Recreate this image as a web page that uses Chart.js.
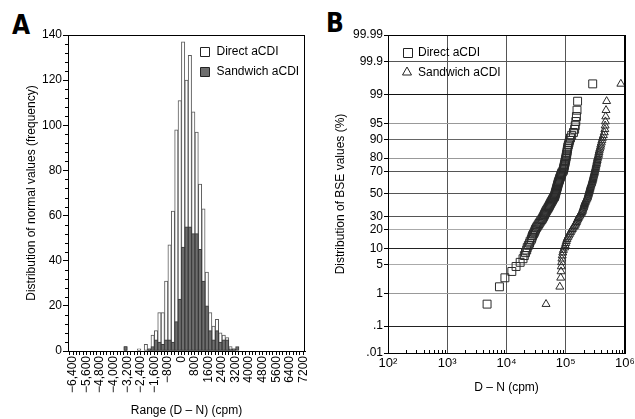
<!DOCTYPE html>
<html>
<head>
<meta charset="utf-8">
<script src="https://cdn.jsdelivr.net/npm/chart.js@4.4.1/dist/chart.umd.min.js"></script>
<style>
html, body { margin: 0; padding: 0; background: #fff; overflow: hidden; width: 635px; height: 419px; }
.panel { position: absolute; top: 0; height: 419px; }
#wrapA { left: 0; width: 320px; }
#wrapB { left: 320px; width: 330px; }
.tag { position: absolute; font-family: "Liberation Sans Narrow", "DejaVu Sans Condensed", sans-serif; font-weight: bold; font-size: 26px; line-height: 1; }
</style>
</head>
<body>
<div class="tag" style="left:12px;top:12px">A</div>
<div class="tag" style="left:326px;top:10px">B</div>
<div id="wrapA" class="panel"><canvas id="chartA"></canvas></div>
<div id="wrapB" class="panel"><canvas id="chartB"></canvas></div>
<script>
// ---- panel A : histogram, bins of 200 cpm (left edge) ----
const binWidth = 200;
const binStarts = [-3400, -3200, -3000, -2800, -2600, -2400, -2200, -2000, -1800, -1600, -1400, -1200,
  -1000, -800, -600, -400, -200, 0, 200, 400, 600, 800, 1000, 1200, 1400, 1600, 1800, 2000, 2200,
  2400, 2600, 2800, 3000, 3200];
const directCounts = [2, 0, 0, 0, 1, 0, 3, 1, 7, 9, 17, 17, 31, 47, 62, 98, 111,
  137, 120, 131, 106, 97, 74, 63, 35, 17, 11, 14, 8, 7, 6, 2, 1, 0];
const sandwichCounts = [2, 0, 0, 0, 0, 0, 0, 1, 2, 5, 4, 3, 5, 5, 4, 13, 23,
  46, 55, 55, 52, 52, 45, 31, 20, 9, 5, 9, 4, 5, 5, 1, 1, 2];
const xTickValuesA = [-6400, -5600, -4800, -4000, -3200, -2400, -1600, -800, 0, 800, 1600, 2400,
  3200, 4000, 4800, 5600, 6400, 7200];
const xTickLabelsA = ['\u22126,400', '\u22125,600', '\u22124,800', '\u22124,000', '\u22123,200', '\u22122,400',
  '\u22121,600', '\u2212800', '0', '800', '1600', '2400', '3200', '4000', '4800', '5600', '6400', '7200'];

// ---- panel B : probability plot ----
const percentiles = [0.5, 1.5, 2.5, 3.5, 4.5, 5.5, 6.5, 7.5, 8.5, 9.5,
  10.5, 11.5, 12.5, 13.5, 14.5, 15.5, 16.5, 17.5, 18.5, 19.5,
  20.5, 21.5, 22.5, 23.5, 24.5, 25.5, 26.5, 27.5, 28.5, 29.5,
  30.5, 31.5, 32.5, 33.5, 34.5, 35.5, 36.5, 37.5, 38.5, 39.5,
  40.5, 41.5, 42.5, 43.5, 44.5, 45.5, 46.5, 47.5, 48.5, 49.5,
  50.5, 51.5, 52.5, 53.5, 54.5, 55.5, 56.5, 57.5, 58.5, 59.5,
  60.5, 61.5, 62.5, 63.5, 64.5, 65.5, 66.5, 67.5, 68.5, 69.5,
  70.5, 71.5, 72.5, 73.5, 74.5, 75.5, 76.5, 77.5, 78.5, 79.5,
  80.5, 81.5, 82.5, 83.5, 84.5, 85.5, 86.5, 87.5, 88.5, 89.5,
  90.5, 91.5, 92.5, 93.5, 94.5, 95.5, 96.5, 97.5, 98.5, 99.5];
const directBse = [4700, 7600, 9400, 12300, 14500, 17000, 19000, 20000, 20900, 21900,
  22400, 23400, 24500, 25100, 26300, 26900, 27500, 28500, 29500, 30200,
  30900, 32000, 33100, 34300, 35500, 36700, 38000, 39400, 40700, 41700,
  42700, 43700, 44700, 45700, 46800, 47900, 49500, 50700, 51900, 53100,
  54300, 55600, 56900, 58200, 59600, 61000, 62400, 64600, 65300, 66100,
  66800, 67600, 68400, 69200, 70000, 70800, 71600, 72400, 73300, 74100,
  75000, 75900, 77600, 78500, 79400, 81300, 82200, 84100, 85100, 87100,
  90200, 91200, 92300, 93300, 94400, 95500, 96600, 97700, 98900, 100000,
  101200, 102300, 103500, 104700, 105900, 107200, 108400, 110900, 113500, 116100,
  120200, 125900, 134900, 141300, 144500, 147900, 151400, 154900, 158500, 285000];
const sandwichBse = [46500, 79400, 82200, 83200, 84100, 85100, 86100, 87100, 89100, 91200,
  95500, 97700, 100000, 102300, 104700, 108400, 112200, 116100, 120200, 124500,
  128800, 133400, 139600, 144500, 147900, 151400, 154900, 158500, 162200, 166000,
  171800, 175800, 182000, 186200, 190500, 192800, 195000, 199500, 201800, 204200,
  206500, 208900, 213800, 216300, 221300, 226500, 231700, 234400, 237100, 239900,
  242700, 245500, 248300, 251200, 254100, 257000, 260000, 263000, 266100, 272300,
  275400, 278600, 281800, 285100, 288400, 291700, 295100, 298500, 302000, 305500,
  309000, 312600, 316200, 319900, 323600, 327300, 331100, 335000, 338800, 342800,
  346700, 354800, 358900, 363100, 367300, 375800, 384600, 389000, 398100, 407400,
  416900, 431500, 446700, 457100, 462400, 467700, 473200, 478600, 489800, 851100];
const yTickValuesB = [99.99, 99.9, 99, 95, 90, 80, 70, 50, 30, 20, 10, 5, 1, 0.1, 0.01];
const yTickLabelsB = ['99.99', '99.9', '99', '95', '90', '80', '70', '50', '30', '20', '10', '5', '1', '.1', '.01'];
const yGridColorsB = ['#000', '#555', '#111', '#999', '#666', '#999', '#555', '#555', '#555', '#aaa', '#222', '#aaa', '#999', '#222', '#000'];
const xTickValuesB = [1e2, 1e3, 1e4, 1e5, 1e6];
const xTickLabelsB = ['10\u00b2', '10\u00b3', '10\u2074', '10\u2075', '10\u2076'];

const FONT = '"Liberation Sans", Arial, Helvetica, sans-serif';
Chart.defaults.font.family = FONT;
Chart.defaults.font.size = 12;
Chart.defaults.color = '#000';

// inverse of the normal CDF (Acklam), percent in, z out
function probit(pct) {
  const p = pct / 100;
  const a = [-3.969683028665376e+01, 2.209460984245205e+02, -2.759285104469687e+02, 1.383577518672690e+02, -3.066479806614716e+01, 2.506628277459239e+00];
  const b = [-5.447609879822406e+01, 1.615858368580409e+02, -1.556989798598866e+02, 6.680131188771972e+01, -1.328068155288572e+01];
  const c = [-7.784894002430293e-03, -3.223964580411365e-01, -2.400758277161838e+00, -2.549732539343734e+00, 4.374664141464968e+00, 2.938163982698783e+00];
  const d = [7.784695709041462e-03, 3.224671290700398e-01, 2.445134137142996e+00, 3.754408661907416e+00];
  const lo = 0.02425;
  let q, r;
  if (p < lo) {
    q = Math.sqrt(-2 * Math.log(p));
    return (((((c[0]*q+c[1])*q+c[2])*q+c[3])*q+c[4])*q+c[5]) / ((((d[0]*q+d[1])*q+d[2])*q+d[3])*q+1);
  }
  if (p > 1 - lo) {
    q = Math.sqrt(-2 * Math.log(1 - p));
    return -(((((c[0]*q+c[1])*q+c[2])*q+c[3])*q+c[4])*q+c[5]) / ((((d[0]*q+d[1])*q+d[2])*q+d[3])*q+1);
  }
  q = p - 0.5; r = q * q;
  return (((((a[0]*r+a[1])*r+a[2])*r+a[3])*r+a[4])*r+a[5])*q / (((((b[0]*r+b[1])*r+b[2])*r+b[3])*r+b[4])*r+1);
}

// box around the plot area
const frame = {
  id: 'frame',
  afterDraw(chart) {
    const {ctx, chartArea: a} = chart;
    ctx.save();
    ctx.strokeStyle = '#000';
    ctx.lineWidth = 1;
    ctx.strokeRect(Math.round(a.left) + 0.5, Math.round(a.top) + 0.5, Math.round(a.right - a.left) - 1, Math.round(a.bottom - a.top));
    ctx.restore();
  }
};

// short unlabeled ticks
const minorTicks = {
  id: 'minorTicks',
  afterDraw(chart, args, opts) {
    const {ctx, chartArea: a} = chart;
    ctx.save();
    ctx.strokeStyle = '#000';
    ctx.lineWidth = 1;
    ctx.beginPath();
    (opts.x || []).forEach(v => {
      const px = Math.round(chart.scales.x.getPixelForValue(v)) + 0.5;
      ctx.moveTo(px, Math.round(a.bottom));
      ctx.lineTo(px, Math.round(a.bottom) + opts.xLen);
    });
    (opts.y || []).forEach(v => {
      const py = Math.round(chart.scales.y.getPixelForValue(v)) + 0.5;
      ctx.moveTo(Math.round(a.left), py);
      ctx.lineTo(Math.round(a.left) + opts.yLen, py);
    });
    ctx.stroke();
    ctx.restore();
  }
};

// legend drawn inside the plot
const innerLegend = {
  id: 'innerLegend',
  afterDraw(chart, args, opts) {
    const {ctx, chartArea: a} = chart;
    ctx.save();
    ctx.font = '12px ' + FONT;
    ctx.textBaseline = 'middle';
    chart.data.datasets.forEach((ds, i) => {
      const x = (opts.fromRight ? a.right - opts.x : a.left + opts.x);
      const y = a.top + opts.y + i * opts.gap;
      ctx.lineWidth = 1;
      ctx.strokeStyle = '#222';
      ctx.fillStyle = opts.fills ? ds.backgroundColor : 'rgba(0,0,0,0)';
      const style = opts.fills ? 'rect' : ds.pointStyle;
      ctx.beginPath();
      if (style === 'triangle') {
        ctx.moveTo(x, y - 5);
        ctx.lineTo(x + 4.5, y + 3);
        ctx.lineTo(x - 4.5, y + 3);
        ctx.closePath();
      } else {
        ctx.rect(Math.round(x - 4.5) + 0.5, Math.round(y - 4.5) + 0.5, 9, 9);
      }
      ctx.fill();
      ctx.stroke();
      ctx.fillStyle = '#000';
      ctx.fillText(ds.label, x + opts.textGap, y + 0.5);
    });
    ctx.restore();
  }
};

// minor tick positions
const yMinorA = [];
for (let v = 4; v < 140; v += 4) if (v % 20 !== 0) yMinorA.push(v);
const xTicksAllA = [];
for (let v = -6600; v <= 7200; v += binWidth) xTicksAllA.push(v);
const xMinorB = [];
for (let e = 2; e < 6; e++) for (let m = 2; m <= 9; m++) xMinorB.push(m * Math.pow(10, e));

const barDataset = (label, counts, fill, border, order) => ({
  label: label,
  data: binStarts.map((s, i) => ({x: s + binWidth / 2, y: counts[i] > 0 ? counts[i] : null})),
  backgroundColor: fill,
  borderColor: border,
  borderWidth: 1,
  borderSkipped: false,
  barPercentage: 1,
  categoryPercentage: 1,
  order: order
});

new Chart(document.getElementById('chartA'), {
  type: 'bar',
  data: {
    datasets: [
      barDataset('Direct aCDI', directCounts, '#ffffff', '#5a5a5a', 1),
      barDataset('Sandwich aCDI', sandwichCounts, '#6e6e6e', '#3a3a3a', 0)
    ]
  },
  options: {
    animation: false,
    responsive: true,
    maintainAspectRatio: false,
    layout: { padding: { left: 0, top: 35, right: 15, bottom: 0 } },
    plugins: {
      legend: { display: false },
      tooltip: { enabled: false },
      minorTicks: { y: yMinorA, yLen: -3 },
      innerLegend: { fromRight: true, x: 100.5, y: 16, gap: 20, textGap: 12, fills: true }
    },
    scales: {
      x: {
        type: 'linear',
        stacked: true,
        offset: false,
        min: -6700,
        max: 7300,
        afterBuildTicks: s => { s.ticks = xTicksAllA.map(v => ({value: v})); },
        afterFit: s => { s.height = 68; },
        ticks: {
          autoSkip: false,
          minRotation: 90,
          maxRotation: 90,
          padding: 1,
          font: { size: 12 },
          callback: v => { const k = xTickValuesA.indexOf(v); return k >= 0 ? xTickLabelsA[k] : ''; }
        },
        grid: { drawOnChartArea: false, offset: false, tickLength: 4, color: '#000' },
        border: { color: '#000' },
        title: { display: true, text: 'Range (D \u2013 N) (cpm)', font: { size: 12 }, padding: { top: 0, bottom: 1 } }
      },
      y: {
        min: 0,
        max: 140,
        stacked: false,
        afterBuildTicks: s => { s.ticks = [0, 20, 40, 60, 80, 100, 120, 140].map(v => ({value: v})); },
        afterFit: s => { s.width = 68; },
        ticks: { padding: 1, font: { size: 12 } },
        grid: { drawOnChartArea: false, tickLength: 5, color: '#000' },
        border: { color: '#000' },
        title: { display: true, text: 'Distribution of normal values (frequency)', font: { size: 12 }, padding: { top: 24, bottom: 0 } }
      }
    }
  },
  plugins: [frame, minorTicks, innerLegend]
});

new Chart(document.getElementById('chartB'), {
  type: 'scatter',
  data: {
    datasets: [
      {
        label: 'Direct aCDI',
        data: directBse.map((v, i) => ({x: v, y: probit(percentiles[i])})),
        pointStyle: 'rect',
        pointRadius: 5.6,
        borderWidth: 1,
        borderColor: '#2a2a2a',
        backgroundColor: 'rgba(0,0,0,0)'
      },
      {
        label: 'Sandwich aCDI',
        data: sandwichBse.map((v, i) => ({x: v, y: probit(percentiles[i])})),
        pointStyle: 'triangle',
        pointRadius: 4.6,
        borderWidth: 1,
        borderColor: '#2a2a2a',
        backgroundColor: 'rgba(0,0,0,0)'
      }
    ]
  },
  options: {
    animation: false,
    responsive: true,
    maintainAspectRatio: false,
    layout: { padding: { left: 0, top: 35, right: 25, bottom: 0 } },
    plugins: {
      legend: { display: false },
      tooltip: { enabled: false },
      minorTicks: { x: xMinorB, xLen: -3 },
      innerLegend: { fromRight: false, x: 19, y: 17, gap: 20, textGap: 11, fills: false }
    },
    scales: {
      x: {
        type: 'logarithmic',
        min: 100,
        max: 1e6,
        afterBuildTicks: s => { s.ticks = xTickValuesB.map(v => ({value: v})); },
        afterFit: s => { s.height = 66; },
        ticks: {
          autoSkip: false,
          maxRotation: 0,
          padding: 3,
          font: { size: 13 },
          callback: v => { const k = xTickValuesB.indexOf(v); return k >= 0 ? xTickLabelsB[k] : ''; }
        },
        grid: { drawTicks: false, color: ctx => (ctx.index > 0 && ctx.index < 4 ? '#555' : '#000') },
        border: { color: '#000' },
        title: { display: true, text: 'D \u2013 N (cpm)', font: { size: 12 }, padding: { top: 0, bottom: 24 } }
      },
      y: {
        type: 'linear',
        min: probit(0.01),
        max: probit(99.99),
        afterBuildTicks: s => { s.ticks = yTickValuesB.map(v => ({value: probit(v)})); },
        afterFit: s => { s.width = 68; },
        ticks: {
          autoSkip: false,
          padding: 1,
          font: { size: 12 },
          callback: (v, i) => yTickLabelsB[i]
        },
        grid: { tickLength: 4, color: ctx => yGridColorsB[ctx.index] || '#000', tickColor: '#000' },
        border: { color: '#000' },
        title: { display: true, text: 'Distribution of BSE values (%)', font: { size: 12 }, padding: { top: 13, bottom: 0 } }
      }
    }
  },
  plugins: [frame, minorTicks, innerLegend]
});
</script>
</body>
</html>
